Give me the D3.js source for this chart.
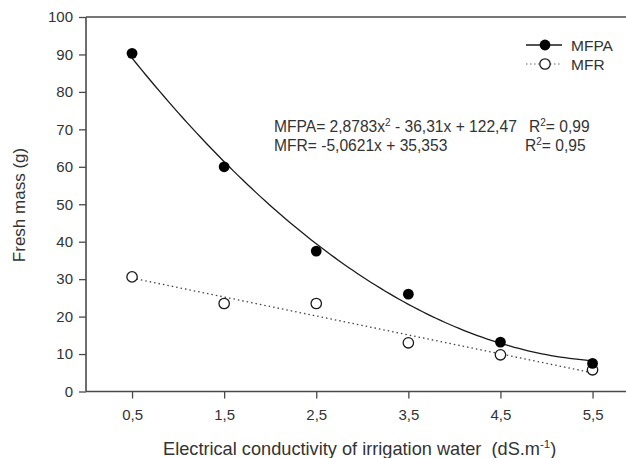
<!DOCTYPE html>
<html>
<head>
<meta charset="utf-8">
<script src="https://cdn.jsdelivr.net/npm/d3@7"></script>
<style>
  html, body { margin: 0; padding: 0; background: #fff; }
  svg { display: block; font-family: "Liberation Sans", Arial, sans-serif; }
</style>
</head>
<body>
<svg id="chart" width="626" height="458"></svg>
<script>
// Electrical conductivity levels (dS/m) and their tick labels
const ecLevels = [0.5, 1.5, 2.5, 3.5, 4.5, 5.5];
const ecLabels = ["0,5", "1,5", "2,5", "3,5", "4,5", "5,5"];
// Fresh mass of shoots (MFPA) and roots (MFR), in grams
const mfpa = [90.3, 60.0, 37.5, 26.0, 13.2, 7.5];
const mfr = [30.6, 23.5, 23.5, 13.0, 9.8, 5.8];
// Regression coefficients, x = treatment index 1..6
const mfpaFit = [2.8783, -36.31, 122.47];
const mfrFit = [-5.0621, 35.353];
const yTicks = [0, 10, 20, 30, 40, 50, 60, 70, 80, 90, 100];

const svg = d3.select("#chart");
const plotLeft = 86, plotTop = 17, plotBottom = 391.5;
const x = d3.scaleLinear().domain([0, 6]).range([plotLeft, plotLeft + 6 * 92.1]);
const y = d3.scaleLinear().domain([0, 100]).range([plotBottom, plotTop]);
const ink = "#1a1a1a";
const textCol = "#333";
const axisCol = "#4a4a4a";

// frame: top border
svg.append("line")
  .attr("x1", plotLeft).attr("x2", 626).attr("y1", plotTop).attr("y2", plotTop)
  .attr("stroke", axisCol).attr("stroke-width", 1.6);

const yAxis = svg.append("g").attr("transform", `translate(${plotLeft},0)`)
  .call(d3.axisLeft(y).tickValues(yTicks).tickSize(7).tickPadding(6).tickSizeOuter(0));
const xAxis = svg.append("g").attr("transform", `translate(0,${plotBottom})`)
  .call(d3.axisBottom(x).tickValues(ecLevels).tickFormat((d, i) => ecLabels[i])
    .tickSize(7).tickPadding(11).tickSizeOuter(0));
[yAxis, xAxis].forEach(g => {
  g.select(".domain").attr("stroke", axisCol).attr("stroke-width", 1.6);
  g.selectAll(".tick line").attr("stroke", axisCol).attr("stroke-width", 1.3);
  g.selectAll(".tick text").attr("fill", textCol).attr("font-size", 15)
    .attr("font-family", "Liberation Sans, Arial, sans-serif");
});
// keep the x domain line from the y axis onward, past the right edge
xAxis.select(".domain").attr("d", `M${plotLeft},0H640`);
yAxis.select(".domain").attr("d", `M0,${plotTop}V${plotBottom}`);

// axis titles
svg.append("text")
  .attr("transform", "translate(25,205) rotate(-90)")
  .attr("text-anchor", "middle").attr("fill", textCol).attr("font-size", 17)
  .text("Fresh mass (g)");
const xt = svg.append("text")
  .attr("x", 163).attr("y", 455).attr("fill", textCol).attr("font-size", 18.2)
  .attr("xml:space", "preserve");
xt.append("tspan").text("Electrical conductivity of irrigation water  (dS.m");
xt.append("tspan").attr("dy", -7).attr("font-size", 11.5).text("-1");
xt.append("tspan").attr("dy", 7).text(")");

// fitted curves, sampled along the treatment index 1..6
const idx = d3.range(1, 6.001, 0.05);
const toEc = i => ecLevels[0] + (i - 1);
const quad = i => mfpaFit[0] * i * i + mfpaFit[1] * i + mfpaFit[2];
const lin = i => mfrFit[0] * i + mfrFit[1];
const line = d3.line().x(d => x(toEc(d[0]))).y(d => y(d[1]));

svg.append("path").datum(idx.map(i => [i, quad(i)]))
  .attr("d", line).attr("fill", "none").attr("stroke", ink).attr("stroke-width", 1.3);
svg.append("path").datum([[1, lin(1)], [6, lin(6)]])
  .attr("d", line).attr("fill", "none").attr("stroke", "#444")
  .attr("stroke-width", 1.3).attr("stroke-dasharray", "1.5,3");

// data points
svg.append("g").selectAll("circle").data(mfr).join("circle")
  .attr("cx", (d, i) => x(ecLevels[i])).attr("cy", d => y(d)).attr("r", 5.2)
  .attr("fill", "#fff").attr("stroke", ink).attr("stroke-width", 1.3);
svg.append("g").selectAll("circle").data(mfpa).join("circle")
  .attr("cx", (d, i) => x(ecLevels[i])).attr("cy", d => y(d)).attr("r", 5.4)
  .attr("fill", "#000");

// legend
const lg = svg.append("g");
lg.append("line").attr("x1", 526).attr("x2", 562).attr("y1", 45).attr("y2", 45)
  .attr("stroke", ink).attr("stroke-width", 1.5);
lg.append("circle").attr("cx", 545).attr("cy", 45).attr("r", 5.4).attr("fill", "#000");
lg.append("text").attr("x", 571).attr("y", 51).attr("font-size", 15.5).attr("fill", textCol).text("MFPA");
lg.append("line").attr("x1", 526).attr("x2", 562).attr("y1", 64).attr("y2", 64)
  .attr("stroke", "#666").attr("stroke-width", 1).attr("stroke-dasharray", "1.5,2.5");
lg.append("circle").attr("cx", 545).attr("cy", 64).attr("r", 5.2).attr("fill", "#fff")
  .attr("stroke", ink).attr("stroke-width", 1.3);
lg.append("text").attr("x", 571).attr("y", 70).attr("font-size", 15.5).attr("fill", textCol).text("MFR");

// regression equations
function eq(xPos, yPos, parts) {
  const t = svg.append("text").attr("x", xPos).attr("y", yPos)
    .attr("font-size", 15.6).attr("fill", textCol).attr("xml:space", "preserve");
  parts.forEach(p => {
    if (p.sup) t.append("tspan").attr("dy", -6).attr("font-size", 10).text(p.sup);
    else t.append("tspan").attr("dy", p.after ? 6 : 0).text(p.t);
  });
}
eq(274, 132, [{ t: "MFPA= 2,8783x" }, { sup: "2" }, { t: " - 36,31x + 122,47", after: true }]);
eq(529, 132, [{ t: "R" }, { sup: "2" }, { t: "= 0,99", after: true }]);
eq(274, 151, [{ t: "MFR= -5,0621x + 35,353" }]);
eq(525, 151, [{ t: "R" }, { sup: "2" }, { t: "= 0,95", after: true }]);
</script>
</body>
</html>
